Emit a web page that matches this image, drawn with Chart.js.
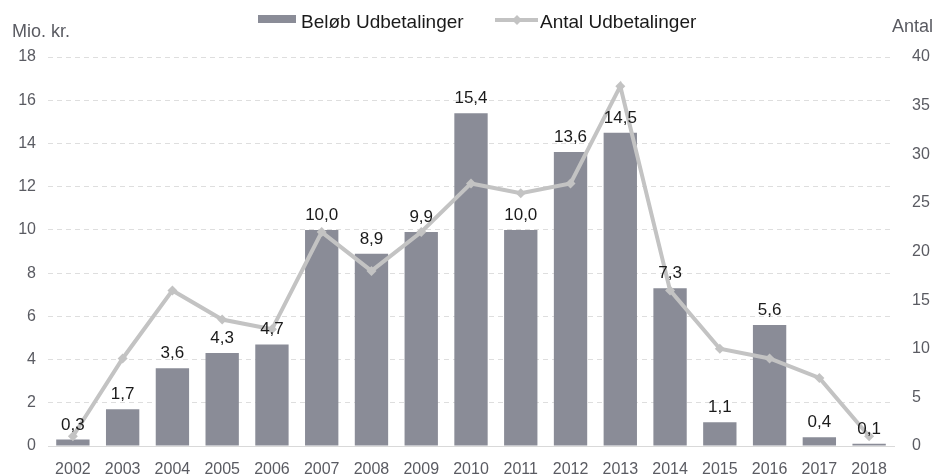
<!DOCTYPE html>
<html><head><meta charset="utf-8">
<script src="https://cdn.jsdelivr.net/npm/chart.js@4"></script>
<style>html,body{margin:0;padding:0;background:#fff;}#wrap{width:939px;height:476px;position:relative;}</style>
</head><body><div id="wrap"><canvas id="c" width="939" height="476"></canvas></div>
<script>
const years = ['2002','2003','2004','2005','2006','2007','2008','2009','2010','2011','2012','2013','2014','2015','2016','2017','2018'];
const amountMio = [0.3,1.7,3.6,4.3,4.7,10.0,8.9,9.9,15.4,10.0,13.6,14.5,7.3,1.1,5.6,0.4,0.1];
const countPayments = [1,9,16,13,12,22,18,22,27,26,27,37,16,10,9,7,1];
const leftTicks = [0,2,4,6,8,10,12,14,16,18];
const rightTicks = [0,5,10,15,20,25,30,35,40];
const seriesNames = ['Beløb Udbetalinger','Antal Udbetalinger'];
const axisTitles = ['Mio. kr.','Antal'];

const FONT = '"Liberation Sans", Arial, sans-serif';
const BAR = '#8a8c97';
const LINE = '#c3c3c3';
const TICK = '#5a5b62';

const overlay = {
  id: 'overlay',
  afterDatasetsDraw(chart) {
    const ctx = chart.ctx;
    const meta = chart.getDatasetMeta(1);
    ctx.save();
    ctx.fillStyle = '#1a1a1a';
    ctx.font = '17px ' + FONT;
    ctx.textAlign = 'center';
    ctx.textBaseline = 'alphabetic';
    meta.data.forEach((bar, i) => {
      const v = amountMio[i];
      ctx.fillText(v.toFixed(1).replace('.', ','), bar.x, bar.y - 10);
    });
    ctx.restore();
  },
  afterDraw(chart) {
    const ctx = chart.ctx;
    ctx.save();
    ctx.fillStyle = TICK;
    ctx.font = '18px ' + FONT;
    ctx.textBaseline = 'alphabetic';
    ctx.textAlign = 'left';
    ctx.fillText(axisTitles[0], 12, 37);
    ctx.textAlign = 'right';
    ctx.fillText(axisTitles[1], 933, 32);
    ctx.fillStyle = BAR;
    ctx.fillRect(258, 15, 38, 8);
    ctx.fillStyle = '#1a1a1a';
    ctx.font = '19px ' + FONT;
    ctx.textAlign = 'left';
    ctx.fillText(seriesNames[0], 301, 28);
    ctx.strokeStyle = LINE;
    ctx.lineWidth = 4;
    ctx.beginPath(); ctx.moveTo(495, 20); ctx.lineTo(538, 20); ctx.stroke();
    ctx.fillStyle = LINE;
    ctx.beginPath(); ctx.moveTo(517, 15); ctx.lineTo(522, 20); ctx.lineTo(517, 25); ctx.lineTo(512, 20); ctx.closePath(); ctx.fill();
    ctx.fillStyle = '#1a1a1a';
    ctx.fillText(seriesNames[1], 540, 28);
    ctx.restore();
  }
};

new Chart(document.getElementById('c'), {
  data: {
    labels: years,
    datasets: [
      { type: 'line', label: seriesNames[1], data: countPayments, yAxisID: 'y1', order: 0,
        borderColor: LINE, backgroundColor: LINE, borderWidth: 4, pointStyle: 'rectRot',
        pointRadius: 5, pointBackgroundColor: LINE, pointBorderColor: LINE, pointBorderWidth: 0, tension: 0 },
      { type: 'bar', label: seriesNames[0], data: amountMio, yAxisID: 'y', order: 1,
        backgroundColor: BAR, barPercentage: 0.67, categoryPercentage: 1 }
    ]
  },
  options: {
    responsive: false, animation: false, devicePixelRatio: 1,
    layout: { padding: { top: 57, left: 0, right: 0, bottom: 0 } },
    plugins: { legend: { display: false }, tooltip: { enabled: false } },
    scales: {
      x: {
        grid: { display: false, drawTicks: false },
        border: { display: true, color: '#d9d9d9', width: 1 },
        ticks: { color: TICK, font: { family: FONT, size: 16 }, padding: 14, maxRotation: 0, autoSkip: false },
        afterFit(s) { s.height = 30; }
      },
      y: {
        position: 'left', min: 0, max: 18,
        grid: { color: '#dedede', drawTicks: false, lineWidth: 1 },
        border: { display: false, dash: [5, 4] },
        afterBuildTicks(s) { s.ticks = leftTicks.map(v => ({ value: v })); },
        ticks: { color: TICK, font: { family: FONT, size: 16 }, padding: 12 },
        afterFit(s) { s.width = 48; }
      },
      y1: {
        position: 'right', min: 0, max: 40,
        grid: { display: false, drawTicks: false },
        border: { display: false },
        afterBuildTicks(s) { s.ticks = rightTicks.map(v => ({ value: v })); },
        ticks: { color: TICK, font: { family: FONT, size: 16 }, padding: 18 },
        afterFit(s) { s.width = 45; }
      }
    }
  },
  plugins: [overlay]
});
</script></body></html>
